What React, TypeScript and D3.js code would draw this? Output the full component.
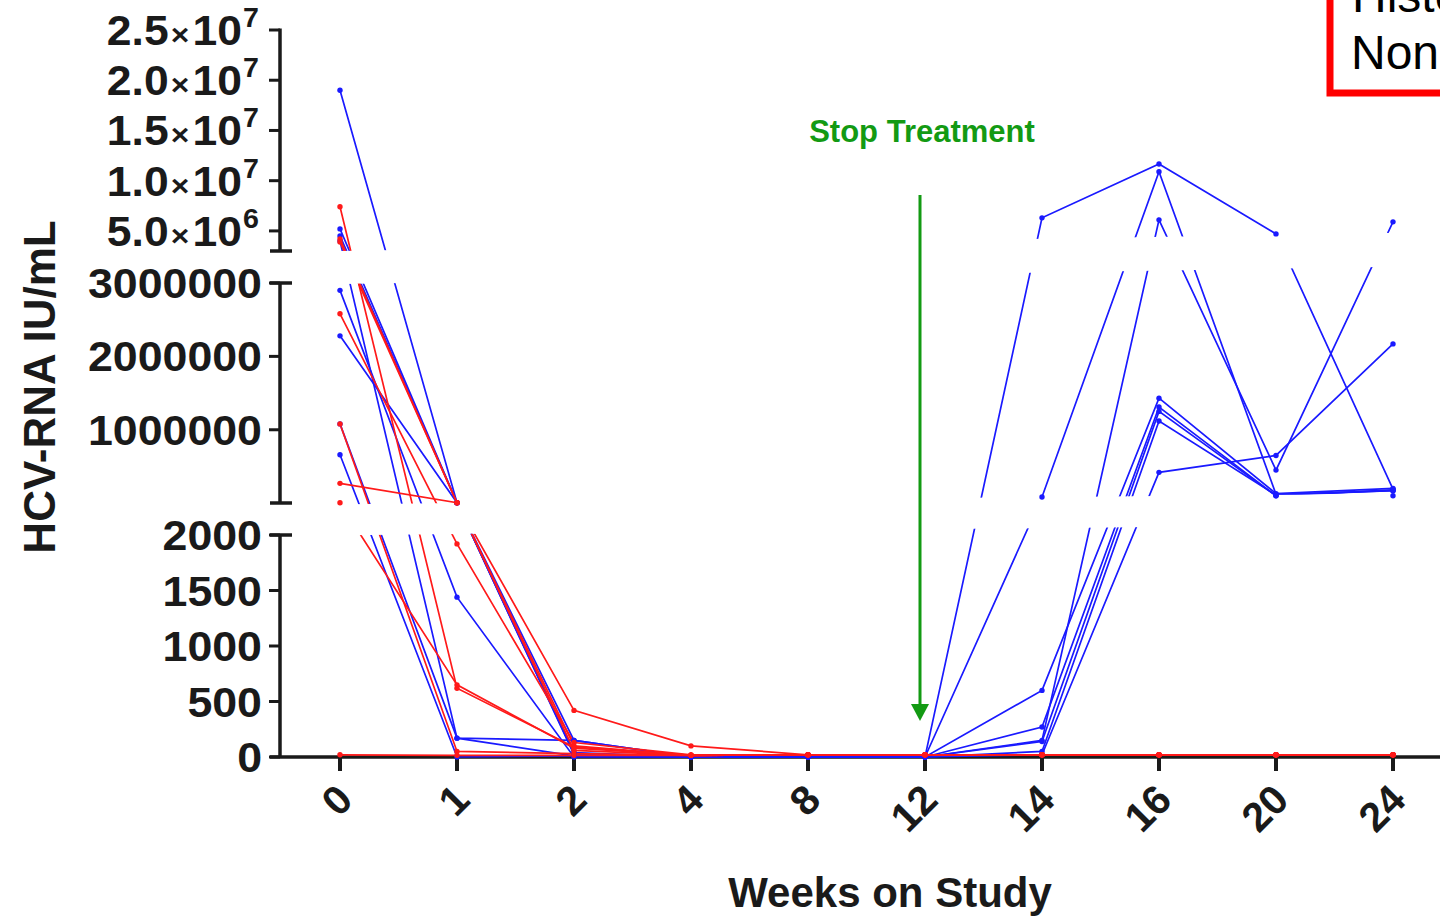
import React from 'react';
import * as d3 from 'd3';

// weeks on study (categorical x axis)
const weeks = ['0', '1', '2', '4', '8', '12', '14', '16', '20', '24'];

// HCV-RNA IU/mL per patient, one value per week
const bluePatients: number[][] = [
  [1.9e7, 5000, 40, 0, 0, 0, 6.3e6, 1.166e7, 4.7e6, 1.9e5],
  [5.2e6, 5000, 150, 0, 0, 0, 8.4e4, 1.09e7, 1.2e5, 1.7e5],
  [4.5e6, 5000, 20, 0, 0, 0, 150, 6.1e6, 4.5e5, 5.9e6],
  [4.0e6, 170, 150, 0, 0, 0, 600, 1.43e6, 1.3e5, 2.0e5],
  [2.9e6, 1440, 0, 0, 0, 0, 270, 1.31e6, 1.0e5, 1.8e5],
  [2.28e6, 5000, 30, 0, 0, 0, 140, 1.25e6, 1.0e5, 1.0e5],
  [1.08e6, 170, 10, 0, 0, 0, 50, 1.12e6, 1.1e5, 1.7e5],
  [6.6e5, 0, 10, 0, 0, 0, 20, 4.2e5, 6.5e5, 2.17e6],
];

const redPatients: number[][] = [
  [7.4e6, 620, 90, 15, 20, 20, 20, 20, 20, 20],
  [4.2e6, 5000, 100, 15, 20, 20, 20, 20, 20, 20],
  [3.9e6, 5000, 420, 100, 20, 20, 20, 20, 20, 20],
  [2.58e6, 1920, 130, 20, 20, 20, 20, 20, 20, 20],
  [1.08e6, 50, 30, 15, 20, 20, 20, 20, 20, 20],
  [2.7e5, 5000, 60, 15, 20, 20, 20, 20, 20, 20],
  [5000, 650, 80, 15, 20, 20, 20, 20, 20, 20],
  [20, 15, 15, 15, 20, 20, 20, 20, 20, 20],
];

// tick values of the three axis segments
const topTicks = [5e6, 1e7, 1.5e7, 2e7, 2.5e7];
const midTicks = [1000000, 2000000, 3000000];
const lowTicks = [0, 500, 1000, 1500, 2000];

const W = 1440;
const H = 916;
const AXIS_X = 280;
const FONT = '"Liberation Sans", Arial, sans-serif';
const BLUE = '#1a1aff';
const RED = '#ff1a1a';
const GREEN = '#139a13';
const INK = '#1a1a1a';

const x = d3.scalePoint<string>().domain(weeks).range([340, 1393]);
const yTop = d3.scaleLinear().domain([3e6, 2.5e7]).range([251, 30]);
const yMid = d3.scaleLinear().domain([2000, 3e6]).range([503, 283]);
const yLow = d3.scaleLinear().domain([0, 2000]).range([757, 535]);
const y = (v: number) => (v <= 2000 ? yLow(v) : v <= 3e6 ? yMid(v) : yTop(v));

// the breaks in the plot area drift a little upward to the right
const gapA = d3.scaleLinear().domain([AXIS_X, W]).range([252, 232]);
const gapB = d3.scaleLinear().domain([AXIS_X, W]).range([285, 266]);
const gapC = d3.scaleLinear().domain([AXIS_X, W]).range([505, 493]);
const gapD = d3.scaleLinear().domain([AXIS_X, W]).range([536, 524]);

const poly = (top: (v: number) => number, bottom: (v: number) => number) =>
  `${0},${top(0)} ${W},${top(W)} ${W},${bottom(W)} ${0},${bottom(0)}`;

const line = d3
  .line<number>()
  .x((_, i) => x(weeks[i]) as number)
  .y((v) => y(v));

const TopLabel: React.FC<{ v: number }> = ({ v }) => {
  const exp = Math.floor(Math.log10(v));
  const mant = (v / 10 ** exp).toFixed(1);
  return (
    <text
      transform={`translate(259,${yTop(v) + 15}) scale(1.06,1)`}
      textAnchor="end"
      fontFamily={FONT}
      fontWeight="bold"
      fill={INK}
    >
      <tspan fontSize={42}>{mant}</tspan>
      <tspan fontSize={30} dx={2}>×</tspan>
      <tspan fontSize={42} dx={3}>10</tspan>
      <tspan fontSize={27} dy={-18} dx={1}>{exp}</tspan>
    </text>
  );
};

const NumLabel: React.FC<{ v: number; yy: number }> = ({ v, yy }) => (
  <text
    transform={`translate(262,${yy + 15}) scale(1.065,1)`}
    textAnchor="end"
    fontFamily={FONT}
    fontWeight="bold"
    fontSize={42}
    fill={INK}
  >
    {d3.format('d')(v)}
  </text>
);

const App: React.FC = () => {
  const segments = [
    { id: 'segTop', points: poly(() => -10, gapA) },
    { id: 'segMid', points: poly(gapB, gapC) },
    { id: 'segLow', points: poly(gapD, () => H) },
  ];
  const cap = (yy: number) => (
    <line x1={AXIS_X - 10} x2={AXIS_X + 12} y1={yy} y2={yy} stroke={INK} strokeWidth={3.5} />
  );
  const seriesGroup = (data: number[][], color: string, key: string) =>
    segments.map((s) => (
      <g key={key + s.id} clipPath={`url(#${s.id})`}>
        {data.map((d, i) => (
          <path key={i} d={line(d) ?? ''} fill="none" stroke={color} strokeWidth={1.7} />
        ))}
      </g>
    ));

  return (
    <svg
      width={W}
      height={H}
      style={{ position: 'absolute', left: 0, top: 0, display: 'block', background: '#fff' }}
    >
      <defs>
        {segments.map((s) => (
          <clipPath key={s.id} id={s.id}>
            <polygon points={s.points} />
          </clipPath>
        ))}
      </defs>

      {/* legend box, cut by the right edge as in the source figure */}
      <rect x={1330} y={-20} width={200} height={113} fill="#fff" stroke="#ff0000" strokeWidth={7} />
      <text x={1352} y={12} fontFamily={FONT} fontSize={48} fill="#000">Historical</text>
      <text x={1351} y={69} fontFamily={FONT} fontSize={48} fill="#000">Non-Responder</text>

      {/* y axis, three segments */}
      <line x1={AXIS_X} x2={AXIS_X} y1={yTop(2.5e7) - 1.5} y2={251} stroke={INK} strokeWidth={3.5} />
      <line x1={AXIS_X} x2={AXIS_X} y1={283} y2={503} stroke={INK} strokeWidth={3.5} />
      <line x1={AXIS_X} x2={AXIS_X} y1={535} y2={757} stroke={INK} strokeWidth={3.5} />
      {cap(251)}
      {cap(283)}
      {cap(503)}
      {cap(535)}
      {topTicks.map((t) => (
        <g key={'tt' + t}>
          <line x1={AXIS_X - 11} x2={AXIS_X} y1={yTop(t)} y2={yTop(t)} stroke={INK} strokeWidth={3} />
          <TopLabel v={t} />
        </g>
      ))}
      {midTicks.map((t) => (
        <g key={'mt' + t}>
          <line x1={AXIS_X - 11} x2={AXIS_X} y1={yMid(t)} y2={yMid(t)} stroke={INK} strokeWidth={3} />
          <NumLabel v={t} yy={yMid(t)} />
        </g>
      ))}
      {lowTicks.map((t) => (
        <g key={'lt' + t}>
          <line x1={AXIS_X - 11} x2={AXIS_X} y1={yLow(t)} y2={yLow(t)} stroke={INK} strokeWidth={3} />
          <NumLabel v={t} yy={yLow(t)} />
        </g>
      ))}

      {/* x axis */}
      <line x1={AXIS_X - 10} x2={W} y1={757} y2={757} stroke={INK} strokeWidth={3.5} />
      {weeks.map((w) => (
        <g key={'x' + w}>
          <line x1={x(w)} x2={x(w)} y1={757} y2={771} stroke={INK} strokeWidth={4} />
          <text
            transform={`translate(${(x(w) as number) + 15},${802}) rotate(-45)`}
            textAnchor="end"
            fontFamily={FONT}
            fontWeight="bold"
            fontSize={41}
            fill={INK}
          >
            {w}
          </text>
        </g>
      ))}

      {/* patient lines, hidden across the axis breaks */}
      {seriesGroup(bluePatients, BLUE, 'b')}
      {seriesGroup(redPatients, RED, 'r')}
      {bluePatients.map((d, i) =>
        d.map((v, j) => <circle key={`bp${i}-${j}`} cx={x(weeks[j])} cy={y(v)} r={2.7} fill={BLUE} />)
      )}
      {redPatients.map((d, i) =>
        d.map((v, j) => <circle key={`rp${i}-${j}`} cx={x(weeks[j])} cy={y(v)} r={2.7} fill={RED} />)
      )}

      {/* stop treatment marker */}
      <text x={922} y={142} textAnchor="middle" fontFamily={FONT} fontWeight="bold" fontSize={31} fill={GREEN}>
        Stop Treatment
      </text>
      <line x1={920} x2={920} y1={195} y2={706} stroke={GREEN} strokeWidth={3} />
      <polygon points="911,704 929,704 920,721" fill={GREEN} />

      {/* axis titles */}
      <text
        transform="translate(55,387) rotate(-90)"
        textAnchor="middle"
        fontFamily={FONT}
        fontWeight="bold"
        fontSize={44}
        fill={INK}
      >
        HCV-RNA IU/mL
      </text>
      <text x={890} y={907} textAnchor="middle" fontFamily={FONT} fontWeight="bold" fontSize={42} fill={INK}>
        Weeks on Study
      </text>
    </svg>
  );
};

export default App;
